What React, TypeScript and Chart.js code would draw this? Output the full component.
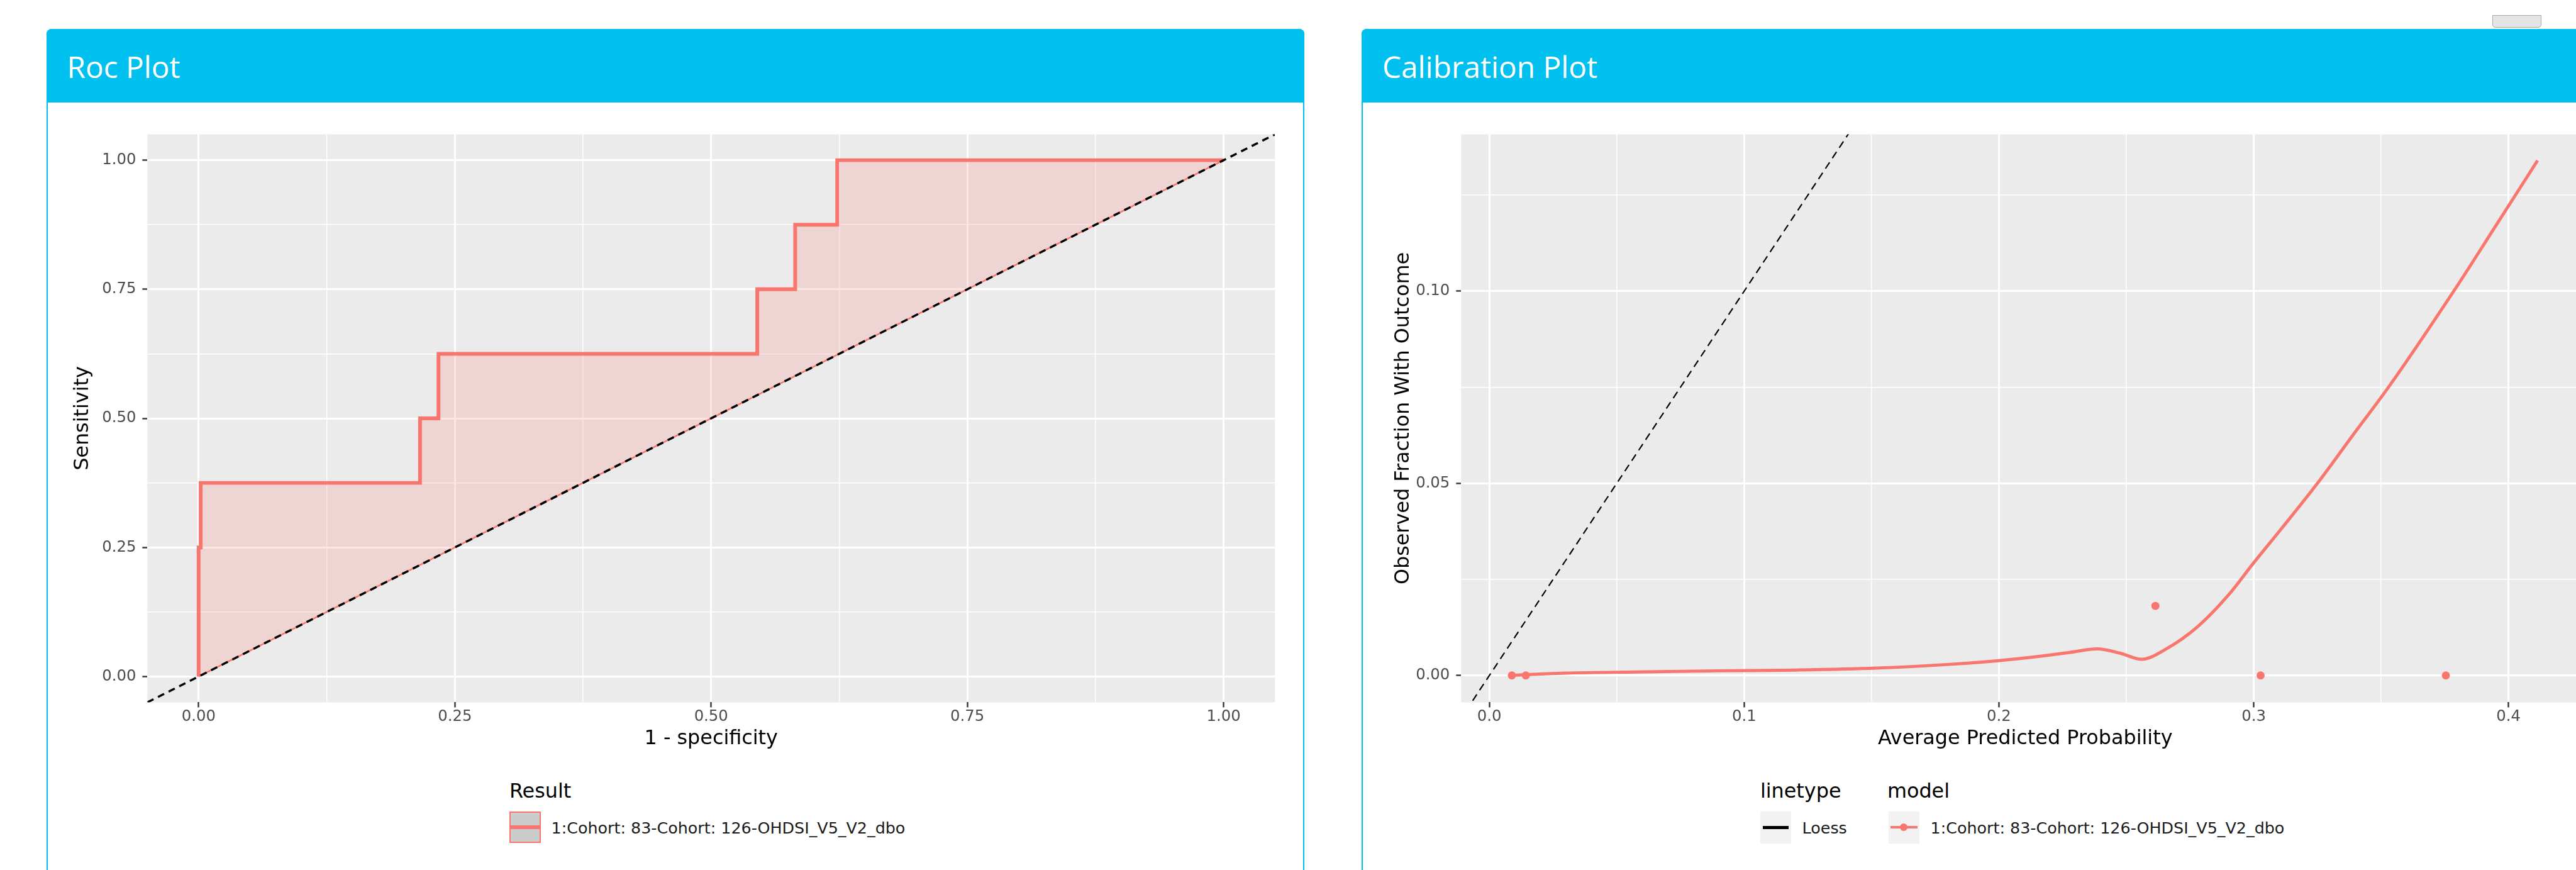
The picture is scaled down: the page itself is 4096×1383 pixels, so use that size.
import React, { useEffect, useRef } from 'react';
import { Chart, registerables } from 'chart.js';

Chart.register(...registerables);

const S = 0.995;
const s = (v: number) => v * S;
const FONT = "'DejaVu Sans', sans-serif";
const HEAD_FONT = "'Open Sans', sans-serif";
const RED = '#F8766D';
const BOX = '#00c0ef';

// ---------- ROC data ----------
const rocFpr = [0, 0, 0.002, 0.002, 0.216, 0.216, 0.234, 0.234, 0.545, 0.545, 0.582, 0.582, 0.623, 0.623, 1.0];
const rocTpr = [0, 0.25, 0.25, 0.375, 0.375, 0.5, 0.5, 0.625, 0.625, 0.75, 0.75, 0.875, 0.875, 1.0, 1.0];
const rocTicks = [0, 0.125, 0.25, 0.375, 0.5, 0.625, 0.75, 0.875, 1];
const rocMajor = [0, 0.25, 0.5, 0.75, 1];
const rocLimits = [-0.05, 1.05];

// ---------- Calibration data ----------
const calPointX = [0.0088, 0.0143, 0.2614, 0.3027, 0.3754];
const calPointY = [0, 0, 0.0181, 0, 0];
const loessX = [0.0088, 0.0143, 0.03, 0.0572, 0.09, 0.1203, 0.1519, 0.1834, 0.1992, 0.215, 0.228, 0.2386, 0.2475, 0.256, 0.2654, 0.278, 0.2907, 0.2995, 0.311, 0.325, 0.339, 0.353, 0.3784, 0.395, 0.4114];
const loessY = [0, 0.0002, 0.0006, 0.0009, 0.0012, 0.0014, 0.0019, 0.003, 0.0038, 0.0049, 0.006, 0.0069, 0.0058, 0.0042, 0.0068, 0.0127, 0.0214, 0.0289, 0.0383, 0.05, 0.0626, 0.0751, 0.0999, 0.117, 0.134];
const calXTicks = [0, 0.05, 0.1, 0.15, 0.2, 0.25, 0.3, 0.35, 0.4];
const calXMajor = [0, 0.1, 0.2, 0.3, 0.4];
const calYTicks = [0, 0.025, 0.05, 0.075, 0.1, 0.125];
const calYMajor = [0, 0.05, 0.1];
const calXLimits = [-0.0111, 0.4317];
const calYLimits = [-0.007, 0.1408];
const identityLine = [-0.05, 1.05];

const legendLabel = '1:Cohort: 83-Cohort: 126-OHDSI_V5_V2_dbo';

const isMajor = (arr: number[], v: number) => arr.some((m) => Math.abs(m - v) < 1e-9);

function makeScale(
  min: number, max: number, tickVals: number[], majorVals: number[], digits: number,
  title: string, fixedSize: number, titlePad: number, horizontal: boolean
): any {
  return {
    type: 'linear',
    position: horizontal ? 'bottom' : 'left',
    min, max,
    bounds: 'data',
    afterBuildTicks: (sc: any) => { sc.ticks = tickVals.map((v) => ({ value: v })); },
    afterFit: (sc: any) => { if (horizontal) sc.height = fixedSize; else sc.width = fixedSize; },
    ticks: {
      autoSkip: false, maxRotation: 0, minRotation: 0,
      padding: horizontal ? s(1) : s(10),
      color: '#4D4D4D',
      font: { family: FONT, size: s(24.5), lineHeight: 1.2 },
      callback: (v: any) => (isMajor(majorVals, Number(v)) ? Number(v).toFixed(digits) : ''),
    },
    grid: {
      color: '#FFFFFF',
      lineWidth: (c: any) => (c.tick ? (isMajor(majorVals, c.tick.value) ? s(3) : s(1.5)) : 0),
      drawTicks: true,
      tickLength: s(8),
      tickColor: (c: any) => (c.tick && isMajor(majorVals, c.tick.value) ? '#333333' : 'rgba(0,0,0,0)'),
      tickWidth: s(2.4),
    },
    border: { display: false },
    title: {
      display: true, text: title, color: '#000000',
      font: { family: FONT, size: s(32), lineHeight: 1.2 },
      padding: horizontal ? { top: 0, bottom: titlePad } : { top: titlePad, bottom: 0 },
    },
  };
}

const bgPlugin = {
  id: 'panelBg',
  beforeDraw(chart: any) {
    const { ctx, chartArea: a } = chart;
    ctx.save();
    ctx.fillStyle = '#EBEBEB';
    ctx.fillRect(a.left, a.top, a.right - a.left, a.bottom - a.top);
    ctx.restore();
  },
};

const baseOptions = (scales: any, pad: any): any => ({
  responsive: false,
  maintainAspectRatio: false,
  animation: false,
  devicePixelRatio: 1,
  layout: { padding: pad },
  plugins: { legend: { display: false }, tooltip: { enabled: false }, title: { display: false } },
  events: [],
  scales,
});

// Canvas geometry (reference coords)
const L = { left: 100, top: 190, width: 1970, height: 1025 };
const R = { left: 2190, top: 190, width: 1975, height: 1025 };

function rocConfig(): any {
  const stepPts = rocFpr.map((x, i) => ({ x, y: rocTpr[i] }));
  const ribbonPts = [...stepPts, { x: rocFpr[0], y: rocFpr[0] }];
  const lowerEdge = [rocFpr[0], rocFpr[rocFpr.length - 1]].map((v) => ({ x: v, y: v }));
  const diag = identityLine.map((v) => ({ x: v, y: v }));
  return {
    type: 'line',
    data: {
      datasets: [
        { data: ribbonPts, fill: 'shape', backgroundColor: 'rgba(248,118,109,0.2)', borderWidth: 0, pointRadius: 0, tension: 0, order: 4 },
        { data: lowerEdge, fill: false, borderColor: RED, borderWidth: s(2.5), pointRadius: 0, tension: 0, order: 3 },
        { data: stepPts, fill: false, borderColor: RED, borderWidth: s(6), pointRadius: 0, tension: 0, order: 2, borderJoinStyle: 'miter', borderCapStyle: 'butt' },
        { data: diag, fill: false, borderColor: '#000000', borderWidth: s(3.5), borderDash: [s(11), s(8)], pointRadius: 0, tension: 0, order: 1, clip: 0 },
      ],
    },
    options: baseOptions(
      {
        x: makeScale(rocLimits[0], rocLimits[1], rocTicks, rocMajor, 2, '1 - specificity', s(93), s(15), true),
        y: makeScale(rocLimits[0], rocLimits[1], rocTicks, rocMajor, 2, 'Sensitivity', s(135), s(13), false),
      },
      { top: s(20), right: s(33), left: 0, bottom: 0 }
    ),
    plugins: [bgPlugin],
  };
}

function calConfig(): any {
  const loessPts = loessX.map((x, i) => ({ x, y: loessY[i] }));
  const pts = calPointX.map((x, i) => ({ x, y: calPointY[i] }));
  const diag = identityLine.map((v) => ({ x: v, y: v }));
  return {
    type: 'line',
    data: {
      datasets: [
        { data: diag, fill: false, borderColor: '#000000', borderWidth: s(2.2), borderDash: [s(12), s(8)], pointRadius: 0, tension: 0, order: 3, clip: 0 },
        { data: loessPts, fill: false, borderColor: RED, borderWidth: s(5), pointRadius: 0, cubicInterpolationMode: 'monotone', order: 2 },
        { data: pts, showLine: false, fill: false, pointRadius: s(6.5), pointBackgroundColor: RED, pointBorderWidth: 0, borderColor: RED, order: 1 },
      ],
    },
    options: baseOptions(
      {
        x: makeScale(calXLimits[0], calXLimits[1], calXTicks, calXMajor, 1, 'Average Predicted Probability', s(93), s(15), true),
        y: makeScale(calYLimits[0], calYLimits[1], calYTicks, calYMajor, 2, 'Observed Fraction With Outcome', s(145), s(34), false),
      },
      { top: s(20), right: s(27), left: 0, bottom: 0 }
    ),
    plugins: [bgPlugin],
  };
}

function ChartCanvas({ make, geo }: { make: () => any; geo: { left: number; top: number; width: number; height: number } }) {
  const ref = useRef<HTMLCanvasElement>(null);
  const w = Math.round(s(geo.width));
  const h = Math.round(s(geo.height));
  useEffect(() => {
    const chart = new Chart(ref.current as HTMLCanvasElement, make());
    return () => chart.destroy();
  }, []);
  return (
    <canvas
      ref={ref}
      width={w}
      height={h}
      style={{ position: 'absolute', left: s(geo.left), top: s(geo.top), width: w, height: h }}
    />
  );
}

function Panel({ left, width, title }: { left: number; width: number; title: string }) {
  return (
    <>
      <div style={{
        position: 'absolute', left: s(left), top: s(46), width: s(width), height: s(1400 - 46),
        border: `2px solid ${BOX}`, borderRadius: `${s(8)}px ${s(8)}px 0 0`, boxSizing: 'border-box', background: '#fff',
      }} />
      <div style={{
        position: 'absolute', left: s(left), top: s(46), width: s(width), height: s(118),
        background: BOX, borderRadius: `${s(8)}px ${s(8)}px 0 0`,
      }} />
      <div style={{
        position: 'absolute', left: s(left + 33), top: s(82.4), fontFamily: HEAD_FONT, fontSize: s(48),
        lineHeight: `${s(48)}px`, color: '#ffffff', whiteSpace: 'nowrap',
      }}>{title}</div>
    </>
  );
}

const txt = (left: number, baseline: number, size: number, text: string, color = '#1A1A1A') => (
  <div style={{
    position: 'absolute', left: s(left), top: s(baseline - 0.846 * size), fontFamily: FONT,
    fontSize: s(size), lineHeight: `${s(size)}px`, color, whiteSpace: 'nowrap',
  }}>{text}</div>
);

export default function App() {
  return (
    <div style={{ position: 'fixed', left: 0, top: 0, width: 4096, height: 1383, overflow: 'hidden', background: '#ffffff' }}>
      {/* small tab at top right */}
      <div style={{
        position: 'absolute', left: s(3983), top: s(24), width: s(78), height: s(20),
        background: '#E4E4E4', border: '1px solid #A8A8A8', borderRadius: `0 0 ${s(5)}px ${s(5)}px`, boxSizing: 'border-box',
      }} />
      <Panel left={74} width={2084 - 74} title="Roc Plot" />
      <Panel left={2176} width={2000} title="Calibration Plot" />

      <ChartCanvas make={rocConfig} geo={L} />
      <ChartCanvas make={calConfig} geo={R} />

      {/* ROC legend */}
      {txt(814, 1275, 32, 'Result', '#000000')}
      <div style={{
        position: 'absolute', left: s(814), top: s(1296), width: s(50), height: s(51),
        background: '#CCCCCC', border: `${s(2.5)}px solid ${RED}`, boxSizing: 'border-box',
      }} />
      <div style={{ position: 'absolute', left: s(816), top: s(1318.5), width: s(46), height: s(6), background: RED }} />
      {txt(881, 1332, 25.5, legendLabel)}

      {/* Calibration legends */}
      {txt(2813, 1275, 32, 'linetype', '#000000')}
      {txt(3016, 1275, 32, 'model', '#000000')}
      <div style={{ position: 'absolute', left: s(2813), top: s(1296), width: s(49), height: s(52), background: '#F2F2F2' }} />
      <div style={{ position: 'absolute', left: s(2817), top: s(1320), width: s(41), height: s(5), background: '#000000' }} />
      {txt(2880, 1332, 25.5, 'Loess')}
      <div style={{ position: 'absolute', left: s(3018), top: s(1296), width: s(49), height: s(52), background: '#F2F2F2' }} />
      <div style={{ position: 'absolute', left: s(3021), top: s(1320), width: s(43), height: s(4), background: RED }} />
      <div style={{ position: 'absolute', left: s(3036.5), top: s(1316), width: s(12), height: s(12), borderRadius: '50%', background: RED }} />
      {txt(3085, 1332, 25.5, legendLabel)}
    </div>
  );
}
